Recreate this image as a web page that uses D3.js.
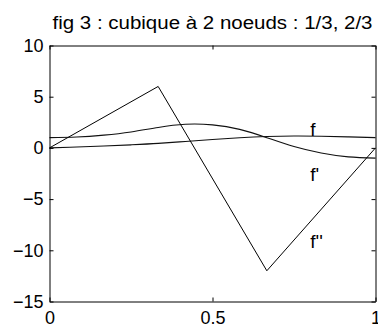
<!DOCTYPE html>
<html>
<head>
<meta charset="utf-8">
<script src="https://cdn.jsdelivr.net/npm/d3@7"></script>
<style>
  body { margin: 0; background: #fff; }
  svg { display: block; }
  text { font-family: "Liberation Sans", Arial, sans-serif; }
</style>
</head>
<body>
<div id="chart"></div>
<script>
// values
const xSamples = [0, 1/12, 2/12, 3/12, 4/12, 5/12, 6/12, 7/12, 8/12, 9/12, 10/12, 11/12, 1];
const fValues = [0, 0.09, 0.18, 0.30, 0.44, 0.63, 0.82, 0.99, 1.11, 1.16, 1.14, 1.08, 1.0];
const fPrimeValues = [1, 1.06, 1.25, 1.56, 2.0, 2.31, 2.25, 1.81, 1.0, 0.13, -0.5, -0.88, -1.0];
const knots = [0, 1/3, 2/3, 1];
const fSecondValues = [0, 6, -12, 0];
const xTicks = [0, 0.5, 1];
const yTicks = [-15, -10, -5, 0, 5, 10];
const labelNames = ["f", "f'", "f''"];
const labelX = [0.8, 0.8, 0.8];
const labelY = [1.21, -3.24, -9.75];
const title = "fig 3 : cubique à 2 noeuds : 1/3, 2/3";

const width = 378, height = 327;
const plotLeft = 49.5, plotRight = 375.5, plotTop = 45.5, plotBottom = 301.5;
const fontSize = 18;

const svg = d3.select("#chart")
  .append("svg")
  .attr("width", width)
  .attr("height", height);

const x = d3.scaleLinear().domain([0, 1]).range([plotLeft, plotRight]);
const y = d3.scaleLinear().domain([-15, 10]).range([plotBottom, plotTop]);

const line = d3.line()
  .x((d) => x(d[0]))
  .y((d) => y(d[1]));

// curves
const plot = svg.append("g");

plot.append("path")
  .datum(d3.zip(xSamples, fValues))
  .attr("fill", "none")
  .attr("stroke", "#111")
  .attr("stroke-width", 1.1)
  .attr("d", line.curve(d3.curveNatural));

plot.append("path")
  .datum(d3.zip(xSamples, fPrimeValues))
  .attr("fill", "none")
  .attr("stroke", "#111")
  .attr("stroke-width", 1.1)
  .attr("d", line.curve(d3.curveNatural));

plot.append("path")
  .datum(d3.zip(knots, fSecondValues))
  .attr("fill", "none")
  .attr("stroke", "#000")
  .attr("stroke-width", 1)
  .attr("d", line.curve(d3.curveLinear));

// axes, box with inward ticks
function styleAxis(g) {
  g.selectAll("path, line").attr("stroke", "#000").attr("stroke-width", 1);
  g.selectAll("text")
    .attr("fill", "#000")
    .attr("font-size", fontSize)
    .attr("font-family", "Liberation Sans, Arial, sans-serif");
}

svg.append("g")
  .attr("transform", `translate(${plotLeft},0)`)
  .call(d3.axisLeft(y).tickValues(yTicks).tickSizeInner(-4).tickSizeOuter(0).tickPadding(6))
  .call(styleAxis);

svg.append("g")
  .attr("transform", `translate(${plotRight},0)`)
  .call(d3.axisRight(y).tickValues(yTicks).tickSizeInner(-4).tickSizeOuter(0).tickFormat(""))
  .call(styleAxis);

svg.append("g")
  .attr("transform", `translate(0,${plotBottom})`)
  .call(d3.axisBottom(x).tickValues(xTicks).tickSizeInner(-4).tickSizeOuter(0).tickPadding(10)
    .tickFormat(d3.format("")))
  .call(styleAxis);

svg.append("g")
  .attr("transform", `translate(0,${plotTop})`)
  .call(d3.axisTop(x).tickValues(xTicks).tickSizeInner(-4).tickSizeOuter(0).tickFormat(""))
  .call(styleAxis);

// curve labels
svg.append("g")
  .selectAll("text")
  .data(labelNames)
  .enter()
  .append("text")
  .text((d) => d)
  .attr("x", (d, i) => x(labelX[i]))
  .attr("y", (d, i) => y(labelY[i]))
  .attr("font-size", 19)
  .attr("fill", "#000");

// title
svg.append("text")
  .text(title)
  .attr("x", (plotLeft + plotRight) / 2)
  .attr("y", 29)
  .attr("text-anchor", "middle")
  .attr("font-size", fontSize)
  .attr("textLength", 320)
  .attr("lengthAdjust", "spacingAndGlyphs")
  .attr("fill", "#000");
</script>
</body>
</html>
